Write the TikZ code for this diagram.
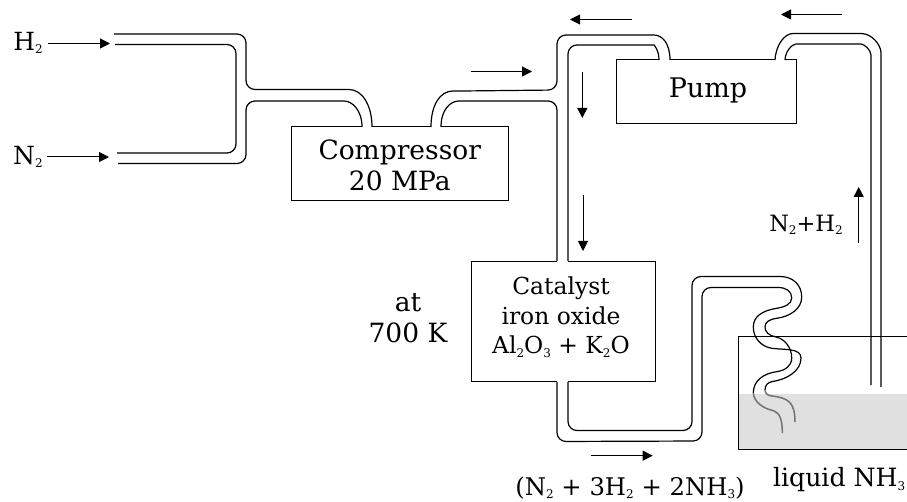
\documentclass[tikz,border=0pt]{standalone}
\usepackage{fontspec}
\setmainfont{DejaVu Serif}
\usetikzlibrary{arrows.meta}
\newcommand{\lowi}[1]{\raisebox{-3.5pt}{\fontsize{12}{12}\selectfont #1}}
\tikzset{
  boxnode/.style={rectangle, draw, line width=1pt, inner sep=0pt, outer sep=0pt, align=center},
  textnode/.style={inner sep=0pt, outer sep=0pt, align=center, font=\fontsize{26.5}{31}\selectfont},
  flowarrow/.style={line width=1pt, -{Triangle[length=10pt,width=10pt]}},
  pipeline/.style={line width=1.2pt, rounded corners=9pt},
  pipegap/.style={white, line width=2.5pt}
}
\begin{document}
\begin{tikzpicture}[x=1pt,y=-1pt]
            \useasboundingbox (0,0) rectangle (907,502);
            \fill[black!12] (738,394) rectangle (907,449.5);
            \draw[line width=1pt] (907,337) -- (738,337) -- (738,449.5) -- (907,449.5);
            \draw (399.75,164) node[boxnode, minimum width=216.5pt, minimum height=74pt] (compressor) {};
            \draw (399.75,165) node[textnode] (compressorlabel) {Compressor\\20 MPa};
            \draw (706,92) node[boxnode, minimum width=180pt, minimum height=64pt] (pump) {};
            \draw (708,90) node[textnode, font=\fontsize{27}{31}\selectfont] (pumplabel) {Pump};
            \draw (563,321.5) node[boxnode, minimum width=184pt, minimum height=120.5pt] (catalyst) {};
            \draw (561,317) node[textnode, font=\fontsize{23.4}{29.5}\selectfont] (catalystlabel) {Catalyst\\iron oxide\\Al\lowi{2}O\lowi{3} + K\lowi{2}O};
            \foreach \name/\xa/\xb/\y in {ca/362/372/127, cb/431/441/127, pa/659/670/60, pb/775/785/60, ka/557/568/261, kb/557/568/382}{
            \coordinate (\name l) at (\xa,\y);
            \coordinate (\name r) at (\xb,\y);
            \draw[pipegap] (\name l) -- (\name r);
            }
            \draw[pipeline] (114,34) -- (246,34) -- (246,89.5) -- (340,89.5) .. controls (362,89.5) and (372,105) .. (car);
            \draw[pipeline] (115,44.5) -- (236,44.5) -- (236,153) -- (117,153);
            \draw[pipeline] (118,163.5) -- (246,163.5) -- (246,101) -- (335,101) .. controls (352,101) and (362,110) .. (cal);
            \draw[pipeline] (cbl) .. controls (431,105) and (440,91) .. (462,91) -- (557,90) -- (557,35) -- (645,35) .. controls (662,35) and (670,43) .. (par);
            \draw[pipeline] (cbr) .. controls (441,110) and (450,101) .. (468,101) -- (557,101) -- (kal);
            \draw[pipeline] (kar) -- (568,45) -- (645,45) .. controls (654,45) and (659,50) .. (pal);
            \draw[pipeline] (pbl) .. controls (776,44) and (785,33.5) .. (802,33.5) -- (852,33.5) .. controls (872,33.5) and (881,45) .. (881,62) -- (881,387);
            \draw[pipeline] (pbr) .. controls (785,52) and (792,44) .. (805,44) -- (852,44) .. controls (864,44) and (871,50) .. (871,64) -- (871,385);
            \draw[pipeline] (kbl) -- (557,441.5) -- (702,441) -- (702,287.5) -- (778,287.5);
            \draw[pipeline] (kbr) -- (568,430.5) -- (692,430.5) -- (692,276.5) -- (780,276.5);
            \draw[line width=1.2pt] (780,276.5) .. controls (793,276.5) and (801.7,285) .. (801.7,297) .. controls (801.7,309) and (790,316.5) .. (776.7,318.3) .. controls (769,319.5) and (765,322) .. (765,327) .. controls (765,332) and (769,335.5) .. (775,336.7) .. controls (785,338.5) and (791.7,348) .. (791.7,358) .. controls (791.7,366) and (785,370.5) .. (776.7,371.7) .. controls (763,373.5) and (753.3,381) .. (753.3,393);
            \draw[line width=1.2pt] (778,287.5) .. controls (786,287.5) and (791.7,291) .. (791.7,298) .. controls (791.7,304) and (785,307) .. (776.7,308.3) .. controls (763,310.5) and (753.3,316) .. (753.3,327) .. controls (753.3,338) and (761,346.5) .. (771.7,348.3) .. controls (785,350) and (801,348) .. (801,358) .. controls (801,371) and (787,379.5) .. (771.7,381.7) .. controls (768,382.5) and (765,385) .. (765,390);
            \draw[line width=1.5pt, black!55] (753.3,393) .. controls (754,402) and (763,408) .. (771,410) .. controls (779,412) and (782.3,417) .. (782.3,433);
            \draw[line width=1.5pt, black!55] (765,390) .. controls (765,394) and (768,395.5) .. (772,396) .. controls (788,398) and (795,402) .. (795,422);
            \foreach \name/\xa/\ya/\xb/\yb in {hin/48/43.5/110/43.5, nin/47/157/109/157, top/470.7/71.5/532/71.5, back/632/19.5/570/19.5, ret/842/14.5/781/14.5, downa/582.3/72/582.3/118, downb/583/195/583/251, upr/858.7/243/858.7/187, outl/590.7/455.7/652.7/455.7}{
            \coordinate (\name a) at (\xa,\ya);
            \coordinate (\name b) at (\xb,\yb);
            \draw[flowarrow] (\name a) -- (\name b);
            }
            \draw (28,43) node[textnode, font=\fontsize{25}{29}\selectfont] (htwo) {H\lowi{2}};
            \draw (28,157) node[textnode, font=\fontsize{25}{29}\selectfont] (ntwo) {N\lowi{2}};
            \draw (408,318) node[textnode] (temp) {at\\700 K};
            \draw (806,225) node[textnode, font=\fontsize{22.5}{26}\selectfont] (mixgas) {N\lowi{2}+H\lowi{2}};
            \draw (630,488) node[textnode, font=\fontsize{24.3}{28}\selectfont] (outgas) {(N\lowi{2} + 3H\lowi{2} + 2NH\lowi{3})};
            \draw (773,480) node[textnode, anchor=west, font=\fontsize{25.2}{29}\selectfont] (liquid) {liquid NH\lowi{3}};
        \end{tikzpicture}
\end{document}
